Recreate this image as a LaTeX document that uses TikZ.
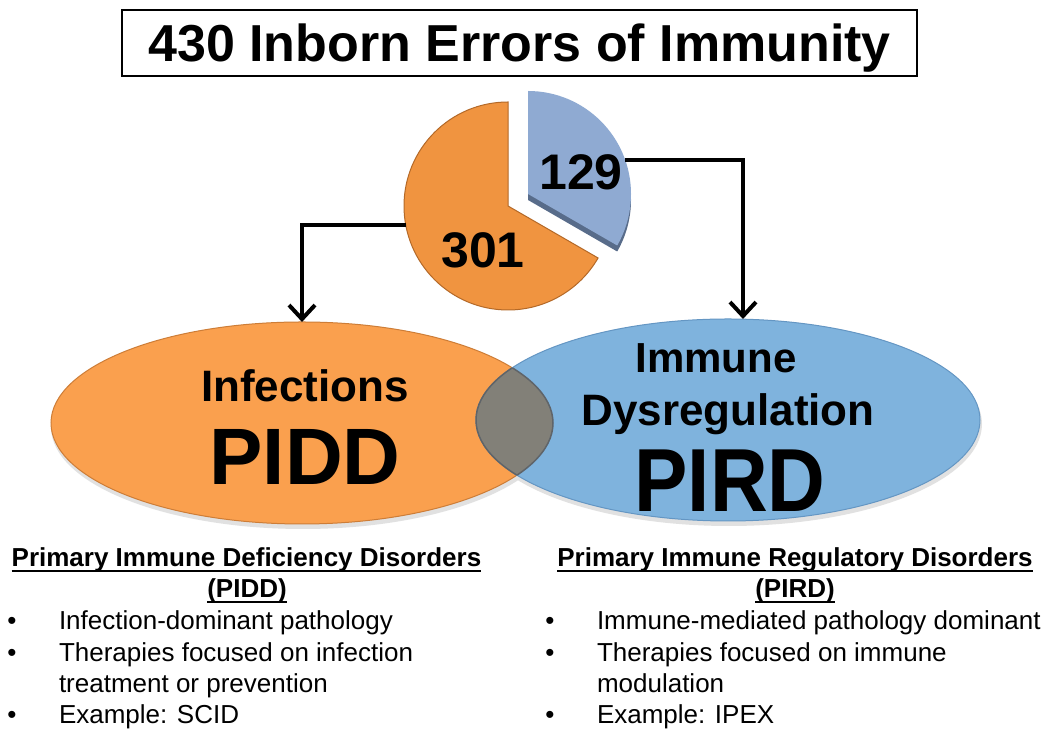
\documentclass[tikz,border=0pt]{standalone}
\usepackage{fontspec}
\setmainfont{Liberation Sans}
\usetikzlibrary{arrows.meta,shapes.geometric}
\definecolor{ofill}{RGB}{250,160,78}
\definecolor{obord}{RGB}{205,125,55}
\definecolor{opie}{RGB}{240,148,64}
\definecolor{opieb}{RGB}{180,105,40}
\definecolor{bfill}{RGB}{127,179,221}
\definecolor{bbord}{RGB}{100,150,195}
\definecolor{bpie}{RGB}{143,170,210}
\definecolor{bside}{RGB}{88,108,138}
\definecolor{lensc}{RGB}{130,128,120}
\definecolor{lensb}{RGB}{95,100,105}
\definecolor{shad}{RGB}{225,225,225}
\begin{document}
\begin{tikzpicture}[x=1pt,y=1pt,
  lbl/.style={inner sep=0pt, outer sep=0pt, anchor=base},
  hdr/.style={inner sep=0pt, outer sep=0pt, anchor=base, font=\fontsize{26}{31}\selectfont\bfseries},
  itm/.style={inner sep=0pt, outer sep=0pt, anchor=base west, font=\fontsize{26}{31}\selectfont},
  bul/.style={inner sep=0pt, outer sep=0pt, anchor=base, font=\fontsize{26}{31}\selectfont},
  venn/.style={ellipse, inner sep=0pt, outer sep=0pt, line width=1pt, minimum height=202pt},
  arr/.style={line width=4pt, -{Straight Barb[length=14pt,width=26pt]}},
  uline/.style={line width=2pt}]
\fill[white] (0,0) rectangle (1050,738);
\useasboundingbox (0,0) rectangle (1050,738);

% title
\node[draw, line width=2pt, minimum width=795pt, minimum height=66pt, inner sep=0pt] (titlebox) at (519.5,695) {};
\node[lbl, font=\fontsize{52}{60}\selectfont\bfseries] (title) at (519.5,676) {430 Inborn Errors of Immunity};

% soft shadows
\fill[shad] (303,311) ellipse[x radius=252, y radius=102];
\fill[shad] (729,314) ellipse[x radius=253, y radius=102];

% Venn ellipses
\node[venn, draw=obord, fill=ofill, minimum width=502pt] (pidd) at (302,315) {};
\node[venn, draw=bbord, fill=bfill, minimum width=504pt] (pird) at (728,318) {};
\begin{scope}
  \clip (302,315) ellipse[x radius=251, y radius=101];
  \fill[lensc] (728,318) ellipse[x radius=252, y radius=101];
  \draw[lensb, line width=1.5pt] (728,318) ellipse[x radius=252, y radius=101];
\end{scope}
\begin{scope}
  \clip (728,318) ellipse[x radius=252, y radius=101];
  \draw[lensb, line width=1.5pt] (302,315) ellipse[x radius=251, y radius=101];
\end{scope}

% pie
\filldraw[fill=opie, draw=opieb, line width=1pt] (508,532) -- ++(90:104) arc[start angle=90, end angle=330, radius=104] -- cycle;
\fill[bside] (528,538) -- ++(90:103) arc[start angle=90, end angle=-30, radius=103] -- cycle;
\fill[bpie] (528,544) -- ++(90:103) arc[start angle=90, end angle=-30, radius=103] -- cycle;
\node[lbl, font=\fontsize{50}{60}\selectfont\bfseries] (n301) at (483,470) {301};
\node[lbl, font=\fontsize{50}{60}\selectfont\bfseries] (n129) at (581,548) {129};

% arrows
\coordinate (s1) at (406,513);
\coordinate (s2) at (625,578);
\coordinate (e2) at (743,419);
\draw[arr] (s1) -| (pidd.north);
\draw[arr] (s2) -| (e2);

% ellipse texts
\node[lbl, font=\fontsize{44}{50}\selectfont\bfseries] (infe) at (305,336) {Infections};
\node[lbl, font=\fontsize{80}{90}\selectfont\bfseries] (piddt) at (305,253) {PIDD};
\node[lbl, font=\fontsize{42}{50}\selectfont\bfseries] (immu) at (716,365) {Immune};
\node[lbl, font=\fontsize{44}{50}\selectfont\bfseries] (dysr) at (728,312) {Dysregulation};
\node[lbl, font=\fontsize{80}{90}\selectfont\bfseries] (pirdt) at (730,226) {\scalebox{1}[1.12]{PIRD}};

% left list
\node[hdr] (h1) at (246.5,171) {Primary Immune Deficiency Disorders};
\node[hdr] (h1b) at (247,140) {(PIDD)};
\draw[uline] ([yshift=-4pt]h1.base west) -- ([yshift=-4pt]h1.base east);
\draw[uline] ([yshift=-4pt]h1b.base west) -- ([yshift=-4pt]h1b.base east);
\node[bul] (lb1) at (12,108) {•};
\node[itm] (l1) at (59,108) {Infection-dominant pathology};
\node[bul] (lb2) at (12,76) {•};
\node[itm] (l2) at (59,76) {Therapies focused on infection};
\node[itm] (l3) at (59,45) {treatment or prevention};
\node[bul] (lb4) at (12,14) {•};
\node[itm] (l4) at (59,14) {Example: SCID};

% right list
\node[hdr] (h2) at (795,171) {Primary Immune Regulatory Disorders};
\node[hdr] (h2b) at (795,140) {(PIRD)};
\draw[uline] ([yshift=-4pt]h2.base west) -- ([yshift=-4pt]h2.base east);
\draw[uline] ([yshift=-4pt]h2b.base west) -- ([yshift=-4pt]h2b.base east);
\node[bul] (rb1) at (550,108) {•};
\node[itm] (r1) at (597,108) {Immune-mediated pathology dominant};
\node[bul] (rb2) at (550,76) {•};
\node[itm] (r2) at (597,76) {Therapies focused on immune};
\node[itm] (r3) at (597,45) {modulation};
\node[bul] (rb4) at (550,14) {•};
\node[itm] (r4) at (597,14) {Example: IPEX};
\end{tikzpicture}
\end{document}
